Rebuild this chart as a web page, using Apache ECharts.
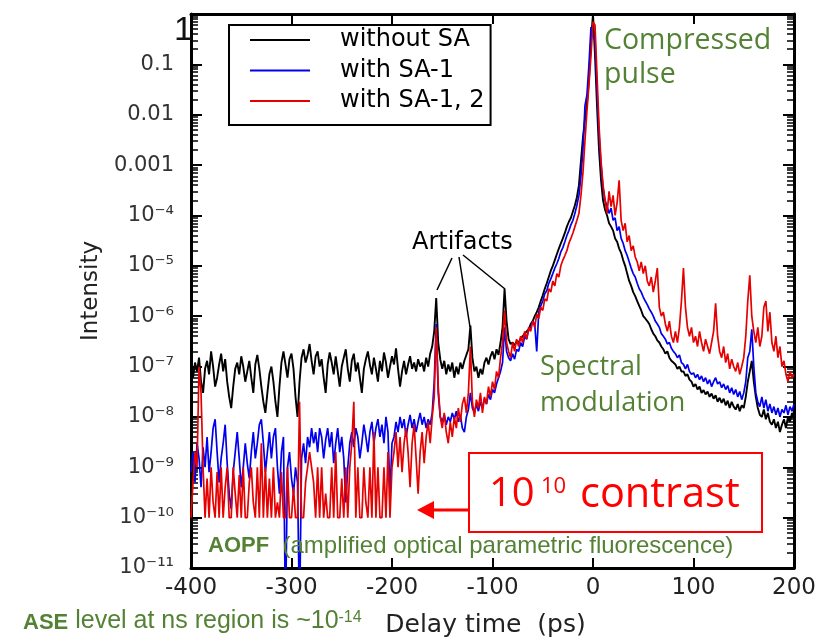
<!DOCTYPE html>
<html>
<head>
<meta charset="utf-8">
<script src="https://cdn.jsdelivr.net/npm/echarts@6/dist/echarts.min.js"></script>
<style>
html,body{margin:0;padding:0;background:#fff;}
#chart{width:833px;height:643px;}
</style>
</head>
<body>
<div id="chart"></div>
<script>
// Delay time (ps) sample grid
const delay = [
-400,-398,-396,-394,-392,-390,-388,-386,-384,-382,
-380,-378,-376,-374,-372,-370,-368,-366,-364,-362,
-360,-358,-356,-354,-352,-350,-348,-346,-344,-342,
-340,-338,-336,-334,-332,-330,-328,-326,-324,-322,
-320,-318,-316,-314,-312,-310,-308,-306,-304,-302,
-300,-298,-296,-294,-292,-290,-288,-286,-284,-282,
-280,-278,-276,-274,-272,-270,-268,-266,-264,-262,
-260,-258,-256,-254,-252,-250,-248,-246,-244,-242,
-240,-238,-236,-234,-232,-230,-228,-226,-224,-222,
-220,-218,-216,-214,-212,-210,-208,-206,-204,-202,
-200,-198,-196,-194,-192,-190,-188,-186,-184,-182,
-180,-178,-176,-174,-172,-170,-168,-166,-164,-162,
-160,-158,-156,-154,-152,-150,-148,-146,-144,-142,
-140,-138,-136,-134,-132,-130,-128,-126,-124,-122,
-120,-118,-116,-114,-112,-110,-108,-106,-104,-102,
-100,-98,-96,-94,-92,-90,-88,-86,-84,-82,
-80,-78,-76,-74,-72,-70,-68,-66,-64,-62,
-60,-58,-56,-54,-52,-50,-48,-46,-44,-42,
-40,-38,-36,-34,-32,-30,-28,-26,-24,-22,
-20,-18,-16,-14,-12,-10,-8,-6,-4,-2,
0,2,4,6,8,10,12,14,16,18,
20,22,24,26,28,30,32,34,36,38,
40,42,44,46,48,50,52,54,56,58,
60,62,64,66,68,70,72,74,76,78,
80,82,84,86,88,90,92,94,96,98,
100,102,104,106,108,110,112,114,116,118,
120,122,124,126,128,130,132,134,136,138,
140,142,144,146,148,150,152,154,156,158,
160,162,164,166,168,170,172,174,176,178,
180,182,184,186,188,190,192,194,196,198,
200
];

// Intensity: without SA
const withoutSA = [
1e-7,6e-8,1.2e-7,8e-8,1.5e-7,5e-8,3e-8,9e-8,1.3e-7,7e-8,
2e-7,1e-7,4e-8,6e-8,1.1e-7,1.8e-7,8e-8,1.4e-7,5e-8,2.5e-8,
1.5e-8,4e-8,9e-8,1.2e-7,7e-8,1.6e-7,1e-7,5e-8,8e-8,1.3e-7,
6e-8,3e-8,1.1e-7,1.7e-7,9e-8,4e-8,2e-8,1.2e-8,3e-8,7e-8,
1e-7,5e-8,2e-8,1e-8,4e-8,1.2e-7,2e-7,1.1e-7,6e-8,1.4e-7,
1.8e-7,9e-8,2.5e-8,1e-8,5e-8,1.5e-7,2.2e-7,1.2e-7,1.7e-7,2.8e-7,
1.3e-7,7e-8,1.6e-7,2e-7,1e-7,1.4e-7,6e-8,3e-8,1.1e-7,1.9e-7,
1.2e-7,7e-8,1.6e-7,8e-8,4e-8,1e-7,1.5e-7,2.2e-7,9e-8,5e-8,
1.3e-7,1.8e-7,8e-8,1.2e-7,6e-8,3e-8,9e-8,1.4e-7,2e-7,1.1e-7,
7e-8,1.5e-7,9e-8,5e-8,1.3e-7,8e-8,1.9e-7,1.2e-7,6e-8,1e-7,
1.6e-7,1.1e-7,2.3e-7,9e-8,4e-8,8e-8,1.3e-7,7e-8,1.1e-7,1.6e-7,
9e-8,1.2e-7,8e-8,1.4e-7,1e-7,1.2e-7,8e-8,1.5e-7,1e-7,1.8e-7,
2.5e-7,5e-7,2.3e-6,3e-7,1.4e-7,9e-8,1.3e-7,7e-8,1.1e-7,8e-8,
1.2e-7,6e-8,1e-7,7e-8,1.2e-7,9e-8,1.3e-7,1.7e-7,2.2e-7,6.5e-7,
1.5e-7,8e-8,1e-7,6e-8,9e-8,7e-8,1.2e-7,1.5e-7,1.1e-7,1.6e-7,
2e-7,1.4e-7,2.2e-7,1.7e-7,3e-7,6e-7,3.5e-6,8e-7,3.5e-7,2.8e-7,
3e-7,2.6e-7,3.2e-7,3e-7,3.6e-7,4e-7,4.5e-7,5e-7,5.5e-7,7e-7,
8e-7,1e-6,1.2e-6,1.5e-6,2e-6,2.6e-6,3.5e-6,4.5e-6,6e-6,8e-6,
1e-5,1.3e-5,1.7e-5,2.2e-5,2.8e-5,3.5e-5,4.5e-5,6e-5,7.5e-5,9e-5,
1.2e-4,1.6e-4,2.3e-4,4e-4,1.2e-3,3.5e-3,8e-3,1.7e-2,5e-2,0.3,
1,0.15,0.015,2e-3,5e-4,2e-4,1.3e-4,1e-4,7e-5,6e-5,
5e-5,3.5e-5,3e-5,2.2e-5,1.8e-5,1.3e-5,1e-5,7e-6,5e-6,4e-6,
3e-6,2.5e-6,2e-6,1.6e-6,1.3e-6,1e-6,9e-7,8e-7,7e-7,5.5e-7,
4.5e-7,4e-7,3.3e-7,3e-7,2.5e-7,2.2e-7,1.8e-7,2e-7,1.5e-7,1.3e-7,
1.2e-7,1.1e-7,9e-8,1e-7,8e-8,8e-8,6.5e-8,7e-8,5.5e-8,5e-8,
4e-8,4.5e-8,3.5e-8,4e-8,3e-8,3.4e-8,2.8e-8,3.2e-8,2.5e-8,2.9e-8,
2.3e-8,2.7e-8,2e-8,2.4e-8,1.9e-8,2.3e-8,1.7e-8,2.1e-8,1.5e-8,2e-8,
1.6e-8,1.4e-8,1.8e-8,1.3e-8,1.7e-8,1.5e-8,2.5e-8,5e-8,8e-8,1.3e-7,
5e-8,2.5e-8,1.5e-8,1.1e-8,1e-8,1.4e-8,9e-9,1.2e-8,8e-9,7e-9,
9e-9,6e-9,8e-9,5e-9,7e-9,9e-9,6e-9,1e-8,8e-9,1.2e-8,
1e-8
];

// Intensity: with SA-1
const withSA1 = [
8e-10,2e-9,5e-10,3e-9,1.5e-9,4e-10,2.5e-9,1e-9,4e-9,8e-10,
2e-9,6e-9,9e-9,2e-9,5e-10,1.5e-9,3e-9,7e-9,1.2e-9,3e-10,
1.5e-10,8e-10,2e-9,5e-9,1.5e-9,4e-10,1e-9,3e-9,1.2e-9,6e-10,
2e-9,5e-9,1.5e-9,3e-9,7e-9,9e-9,3e-9,8e-10,2e-9,5e-9,
1.5e-9,4e-9,6e-9,1e-9,3e-10,2e-9,4e-9,1e-12,1e-9,2e-9,
6e-10,3e-10,1e-9,5e-10,1e-12,1.5e-9,3e-9,1.2e-9,4e-9,2.5e-9,
6e-9,3e-9,5e-9,2e-9,6e-9,4e-9,1.5e-9,3.5e-9,6e-9,2.5e-9,
5e-9,1.2e-9,3e-9,6e-9,2e-9,4e-9,1.5e-9,2e-10,1e-9,3e-9,
5e-9,2.5e-9,6e-9,4e-9,1.5e-9,3e-9,7e-9,4e-9,2e-9,5e-9,
8e-9,3e-9,6e-9,9e-9,4e-9,7e-9,3e-9,1e-8,5e-9,3e-10,
3e-9,4e-9,8e-9,5e-9,1e-8,6e-9,9e-9,4e-9,7e-9,1.1e-8,
6e-9,9e-9,5e-9,8e-9,1.2e-8,7e-9,1e-8,6e-9,9e-9,7e-9,
1.2e-8,5e-8,7e-7,3e-8,1e-8,8e-9,1.1e-8,7e-9,1e-8,8e-9,
1.2e-8,9e-9,1.3e-8,8e-9,1.1e-8,6e-9,5e-9,1e-8,1.4e-8,3e-8,
1.5e-8,1.2e-8,1.8e-8,1.3e-8,2e-8,1.5e-8,2.3e-8,1.8e-8,2.8e-8,2.2e-8,
3.5e-8,3e-8,4.5e-8,6e-8,8e-8,1.2e-7,6e-7,2e-7,1.5e-7,1.3e-7,
1.8e-7,1.4e-7,2.2e-7,2e-7,3e-7,2.5e-7,4e-7,3.5e-7,5.5e-7,6e-7,
8e-7,7e-7,2e-7,1.2e-6,1.6e-6,2e-6,2.8e-6,3.2e-6,4.5e-6,5.5e-6,
7e-6,9e-6,1.1e-5,1.4e-5,1.9e-5,2.3e-5,3e-5,4e-5,5e-5,6.5e-5,
8e-5,1.1e-4,1.6e-4,2.5e-4,6e-4,2e-3,1.5e-2,2.5e-2,0.1,0.55,
0.4,0.3,0.03,4e-3,1e-3,3.5e-4,2e-4,1.5e-4,1.1e-4,1.4e-4,
8e-5,9e-5,5e-5,6e-5,3.5e-5,2.8e-5,2e-5,1.6e-5,1.2e-5,9e-6,
7e-6,6e-6,4.5e-6,3.5e-6,3e-6,2.4e-6,2e-6,1.7e-6,1.4e-6,1.2e-6,
1e-6,8e-7,7e-7,6e-7,4.5e-7,4e-7,3.5e-7,2.8e-7,3e-7,2.3e-7,
2e-7,1.8e-7,1.5e-7,1.7e-7,1.2e-7,1.1e-7,9e-8,1.1e-7,8e-8,7e-8,
7.5e-8,6e-8,7e-8,5.5e-8,6.5e-8,5e-8,6e-8,4.5e-8,5.5e-8,4e-8,
5e-8,6e-8,4.5e-8,5e-8,3.8e-8,4.5e-8,3.5e-8,4.2e-8,3e-8,3.8e-8,
2.8e-8,3.5e-8,2.5e-8,3.2e-8,2.2e-8,3e-8,5e-8,1.5e-7,2e-7,5.5e-7,
1e-7,3e-8,2e-8,1.6e-8,2.5e-8,1.5e-8,2.2e-8,1.3e-8,1.8e-8,1.2e-8,
1.6e-8,1.1e-8,1.5e-8,1e-8,1.4e-8,1.2e-8,1.7e-8,1.1e-8,1.6e-8,1.3e-8,
1.8e-8
];

// Intensity: with SA-1, 2
const withSA12 = [
1e-10,5e-10,2e-9,1e-9,1e-7,3e-8,1e-9,1e-10,6e-10,1e-10,
1e-9,2e-10,1e-10,8e-10,1e-10,1e-9,1e-10,4e-10,1e-9,1e-10,
1e-10,1e-9,3e-10,1e-10,7e-10,1e-10,1e-9,1e-10,1e-10,5e-10,
1e-9,2e-10,1e-10,1e-9,1e-10,3e-9,1e-10,1e-9,1e-10,6e-10,
1e-10,1e-9,1e-10,2e-10,1e-10,8e-10,1e-10,1e-10,1e-9,1e-10,
1e-10,4e-10,1e-10,1e-10,2e-8,1e-10,1e-10,5e-10,1e-9,2e-9,
1e-9,5e-10,1e-10,1e-9,1e-10,1e-9,1e-10,3e-10,1e-10,1e-10,
1e-9,1e-10,2e-9,1e-10,1e-10,6e-10,1e-10,1e-9,1e-10,1e-9,
3e-9,2e-8,1e-10,1e-9,1e-10,1e-10,1e-9,2e-10,1e-10,1e-9,
1e-10,5e-9,1e-10,1e-9,1e-10,1e-10,1e-9,1e-10,2e-9,1e-10,
1e-9,2e-9,5e-9,1e-9,4e-9,8e-10,3e-9,6e-9,2e-9,4e-10,
3e-9,7e-9,1.5e-9,3e-10,2e-9,5e-9,1.2e-9,4e-9,8e-9,3e-9,
1e-8,2.5e-8,6e-7,4e-8,1e-8,6e-9,1.2e-8,5e-9,3e-9,8e-9,
4e-9,1e-8,6e-9,1.5e-8,8e-9,1.8e-8,2.5e-8,1.2e-8,3e-8,2.5e-7,
2e-8,1e-8,2.2e-8,1.5e-8,3e-8,1.2e-8,2.5e-8,1.8e-8,4e-8,2.5e-8,
5e-8,3.5e-8,8e-8,6e-8,1.5e-7,3e-7,1.3e-6,3e-7,2e-7,1.5e-7,
3e-7,2e-7,3.5e-7,2.5e-7,4e-7,3e-7,5e-7,3.5e-7,6e-7,5e-7,
8e-7,6e-7,1.1e-6,9e-7,1.5e-6,1.3e-6,2.2e-6,2e-6,3.5e-6,3e-6,
5e-6,4e-6,7e-6,6e-6,1e-5,1.3e-5,1.6e-5,2e-5,2.8e-5,3.5e-5,
4.5e-5,6e-5,8e-5,1.1e-4,2.5e-4,7e-4,3e-3,1.2e-2,4e-2,0.15,
0.7,0.6,0.06,6e-3,1.2e-3,4e-4,2e-4,1.1e-4,3e-4,1.5e-4,
2.5e-4,1e-4,1.8e-4,5e-4,8e-5,5e-5,7e-5,3e-5,4e-5,2e-5,
2.5e-5,1.5e-5,1.2e-5,8e-6,1.2e-5,7e-6,1e-5,5e-6,4e-6,6e-6,
3e-6,5e-6,9e-6,1.5e-6,1e-6,1.2e-6,7e-7,5e-7,8e-7,4e-7,
3e-7,5e-7,3e-7,6e-7,2e-6,9e-6,1.5e-6,6e-7,4e-7,6e-7,
3e-7,4e-7,2.5e-7,5e-7,3e-7,2e-7,3.5e-7,2.5e-7,1.8e-7,3e-7,
5e-7,1.8e-6,4e-7,2e-7,1.5e-7,2.5e-7,1.2e-7,1.8e-7,9e-8,1.4e-7,
1e-7,8e-8,1.2e-7,7e-8,1e-7,1.5e-7,4e-7,2e-6,6.5e-6,1e-6,
5e-7,3e-7,6e-7,2.5e-7,4e-7,1.5e-6,2e-6,5e-7,1.2e-6,3e-7,
2e-7,4e-7,1.5e-7,2.5e-7,1e-7,1.3e-7,7e-8,5e-8,8e-8,6e-8,
7e-8
];

const seriesNames = ['without SA', 'with SA-1', 'with SA-1, 2'];
const seriesColors = ['#000000', '#0000ee', '#e60000'];
// y tick labels by decade exponent (0 .. -11)
const yTickLabels = ['', '0.1', '0.01', '0.001', '10⁻⁴', '10⁻⁵', '10⁻⁶', '10⁻⁷', '10⁻⁸', '10⁻⁹', '10⁻¹⁰', '10⁻¹¹'];
const xTickLabels = ['-400', '-300', '-200', '-100', '0', '100', '200'];

const GREEN = '#548235';
const AX = 'DejaVu Sans';

function pairs(vals) { return delay.map(function (x, i) { return [x, vals[i]]; }); }

const chart = echarts.init(document.getElementById('chart'), null, { renderer: 'canvas' });

const yTick = { show: true, inside: true, length: 11, lineStyle: { color: '#000', width: 2 } };
const yMinor = { show: true, splitNumber: 9, length: 7, lineStyle: { color: '#000', width: 1.5 } };
const xTick = { show: true, inside: true, length: 10, lineStyle: { color: '#000', width: 2 } };
const axLine = { show: true, onZero: false, lineStyle: { color: '#000', width: 3 } };

const option = {
  animation: false,
  backgroundColor: '#fff',
  grid: { left: 191, right: 39, top: 14, bottom: 74 },
  legend: {
    data: seriesNames,
    orient: 'vertical',
    left: 229, top: 25,
    padding: [2, 6, 11, 21],
    itemGap: 4.5,
    itemWidth: 60, itemHeight: 2,
    icon: 'rect',
    borderColor: '#000', borderWidth: 2,
    backgroundColor: '#fff',
    selectedMode: false,
    textStyle: { fontFamily: AX, fontSize: 24, color: '#000', lineHeight: 26, padding: [0, 0, 0, 25] }
  },
  xAxis: [
    {
      type: 'value', min: -400, max: 200, interval: 100, position: 'bottom',
      axisLine: axLine, axisTick: xTick, splitLine: { show: false },
      axisLabel: {
        margin: 9, fontFamily: AX, fontSize: 23, color: '#222',
        formatter: function (v) { return xTickLabels[Math.round((v + 400) / 100)]; }
      },
      name: 'Delay time  (ps)', nameLocation: 'middle', nameGap: 45,
      nameTextStyle: { fontFamily: AX, fontSize: 25, color: '#222', padding: [0, 14, 0, 0] }
    },
    {
      type: 'value', min: -400, max: 200, interval: 100, position: 'top',
      axisLine: axLine, axisTick: xTick, splitLine: { show: false }, axisLabel: { show: false }
    }
  ],
  yAxis: [
    {
      type: 'log', logBase: 10, min: 1e-11, max: 1, interval: 1, position: 'left',
      axisLine: axLine, axisTick: yTick, minorTick: yMinor, splitLine: { show: false }, minorSplitLine: { show: false },
      axisLabel: {
        show: true, margin: 17, color: '#333', fontFamily: AX, fontSize: 21,
        formatter: function (v) {
          const e = Math.round(-Math.log10(v));
          return yTickLabels[e] || '';
        }
      },
      name: 'Intensity', nameLocation: 'middle', nameGap: 87,
      nameTextStyle: { fontFamily: AX, fontSize: 23, color: '#222' }
    },
    {
      type: 'log', logBase: 10, min: 1e-11, max: 1, interval: 1, position: 'right',
      axisLine: axLine, axisTick: yTick, minorTick: yMinor, splitLine: { show: false }, minorSplitLine: { show: false },
      axisLabel: { show: false }
    }
  ],
  series: [
    {
      type: 'line', name: seriesNames[0], data: pairs(withoutSA), showSymbol: false, symbol: 'none',
      lineStyle: { color: seriesColors[0], width: 1.9 }, itemStyle: { color: seriesColors[0] }, clip: true, z: 2
    },
    {
      type: 'line', name: seriesNames[1], data: pairs(withSA1), showSymbol: false, symbol: 'none',
      lineStyle: { color: seriesColors[1], width: 1.7 }, itemStyle: { color: seriesColors[1] }, clip: true, z: 3
    },
    {
      type: 'line', name: seriesNames[2], data: pairs(withSA12), showSymbol: false, symbol: 'none',
      lineStyle: { color: seriesColors[2], width: 1.7 }, itemStyle: { color: seriesColors[2] }, clip: true, z: 4
    }
  ],
  graphic: [
    { type: 'text', x: 193, y: 31, z: 100, style: { text: '1', fontFamily: 'Liberation Sans', fontSize: 34, fill: '#111', align: 'right', verticalAlign: 'middle' } },
    { type: 'text', x: 604, y: 41, z: 100, style: { text: 'Compressed', fontFamily: 'Open Sans', fontSize: 28.5, fill: GREEN, align: 'left', verticalAlign: 'middle' } },
    { type: 'text', x: 604, y: 75, z: 100, style: { text: 'pulse', fontFamily: 'Open Sans', fontSize: 28.5, fill: GREEN, align: 'left', verticalAlign: 'middle' } },
    { type: 'text', x: 540, y: 367, z: 100, style: { text: 'Spectral', fontFamily: 'Open Sans', fontSize: 27, fill: GREEN, align: 'left', verticalAlign: 'middle' } },
    { type: 'text', x: 540, y: 403, z: 100, style: { text: 'modulation', fontFamily: 'Open Sans', fontSize: 27, fill: GREEN, align: 'left', verticalAlign: 'middle' } },
    { type: 'text', x: 412, y: 243, z: 100, style: { text: 'Artifacts', fontFamily: AX, fontSize: 24, fill: '#000', align: 'left', verticalAlign: 'middle' } },
    { type: 'line', z: 100, shape: { x1: 452, y1: 258, x2: 437, y2: 290 }, style: { stroke: '#000', lineWidth: 1.5 } },
    { type: 'line', z: 100, shape: { x1: 459, y1: 257, x2: 470, y2: 327 }, style: { stroke: '#000', lineWidth: 1.5 } },
    { type: 'line', z: 100, shape: { x1: 463, y1: 255, x2: 505, y2: 289 }, style: { stroke: '#000', lineWidth: 1.5 } },
    { type: 'rect', z: 100, shape: { x: 469, y: 453, width: 293, height: 79 }, style: { fill: '#fff', stroke: '#ff0000', lineWidth: 2 } },
    { type: 'text', x: 489, y: 495, z: 101, style: { text: '10', fontFamily: 'Open Sans', fontSize: 40, fill: '#ff0000', align: 'left', verticalAlign: 'middle' } },
    { type: 'text', x: 541, y: 487, z: 101, style: { text: '10', fontFamily: 'Open Sans', fontSize: 22, fill: '#ff0000', align: 'left', verticalAlign: 'middle' } },
    { type: 'text', x: 580, y: 495, z: 101, style: { text: 'contrast', fontFamily: 'Open Sans', fontSize: 41.5, fill: '#ff0000', align: 'left', verticalAlign: 'middle' } },
    { type: 'line', z: 100, shape: { x1: 469, y1: 510, x2: 428, y2: 510 }, style: { stroke: '#ff0000', lineWidth: 3 } },
    { type: 'polygon', z: 100, shape: { points: [[417, 510], [434, 501], [434, 519]] }, style: { fill: '#ff0000' } },
    { type: 'text', x: 208, y: 546, z: 100, style: {
        text: '{b|AOPF}{n|  (amplified optical parametric fluorescence)}', align: 'left', verticalAlign: 'middle',
        rich: {
          b: { fontFamily: 'Liberation Sans', fontWeight: 'bold', fontSize: 22, fill: GREEN, lineHeight: 24 },
          n: { fontFamily: 'Liberation Sans', fontSize: 24, fill: GREEN, lineHeight: 24 }
        } } },
    { type: 'text', x: 23, y: 622, z: 100, style: {
        text: '{b|ASE}{n| level at ns region is ~10}{s|-14}', align: 'left', verticalAlign: 'middle',
        rich: {
          b: { fontFamily: 'Liberation Sans', fontWeight: 'bold', fontSize: 22, fill: GREEN, lineHeight: 24, verticalAlign: 'bottom' },
          n: { fontFamily: 'Liberation Sans', fontSize: 25, fill: GREEN, lineHeight: 24, verticalAlign: 'bottom' },
          s: { fontFamily: 'Liberation Sans', fontSize: 16, fill: GREEN, lineHeight: 16, verticalAlign: 'top' }
        } } }
  ]
};

chart.setOption(option);
</script>
</body>
</html>
